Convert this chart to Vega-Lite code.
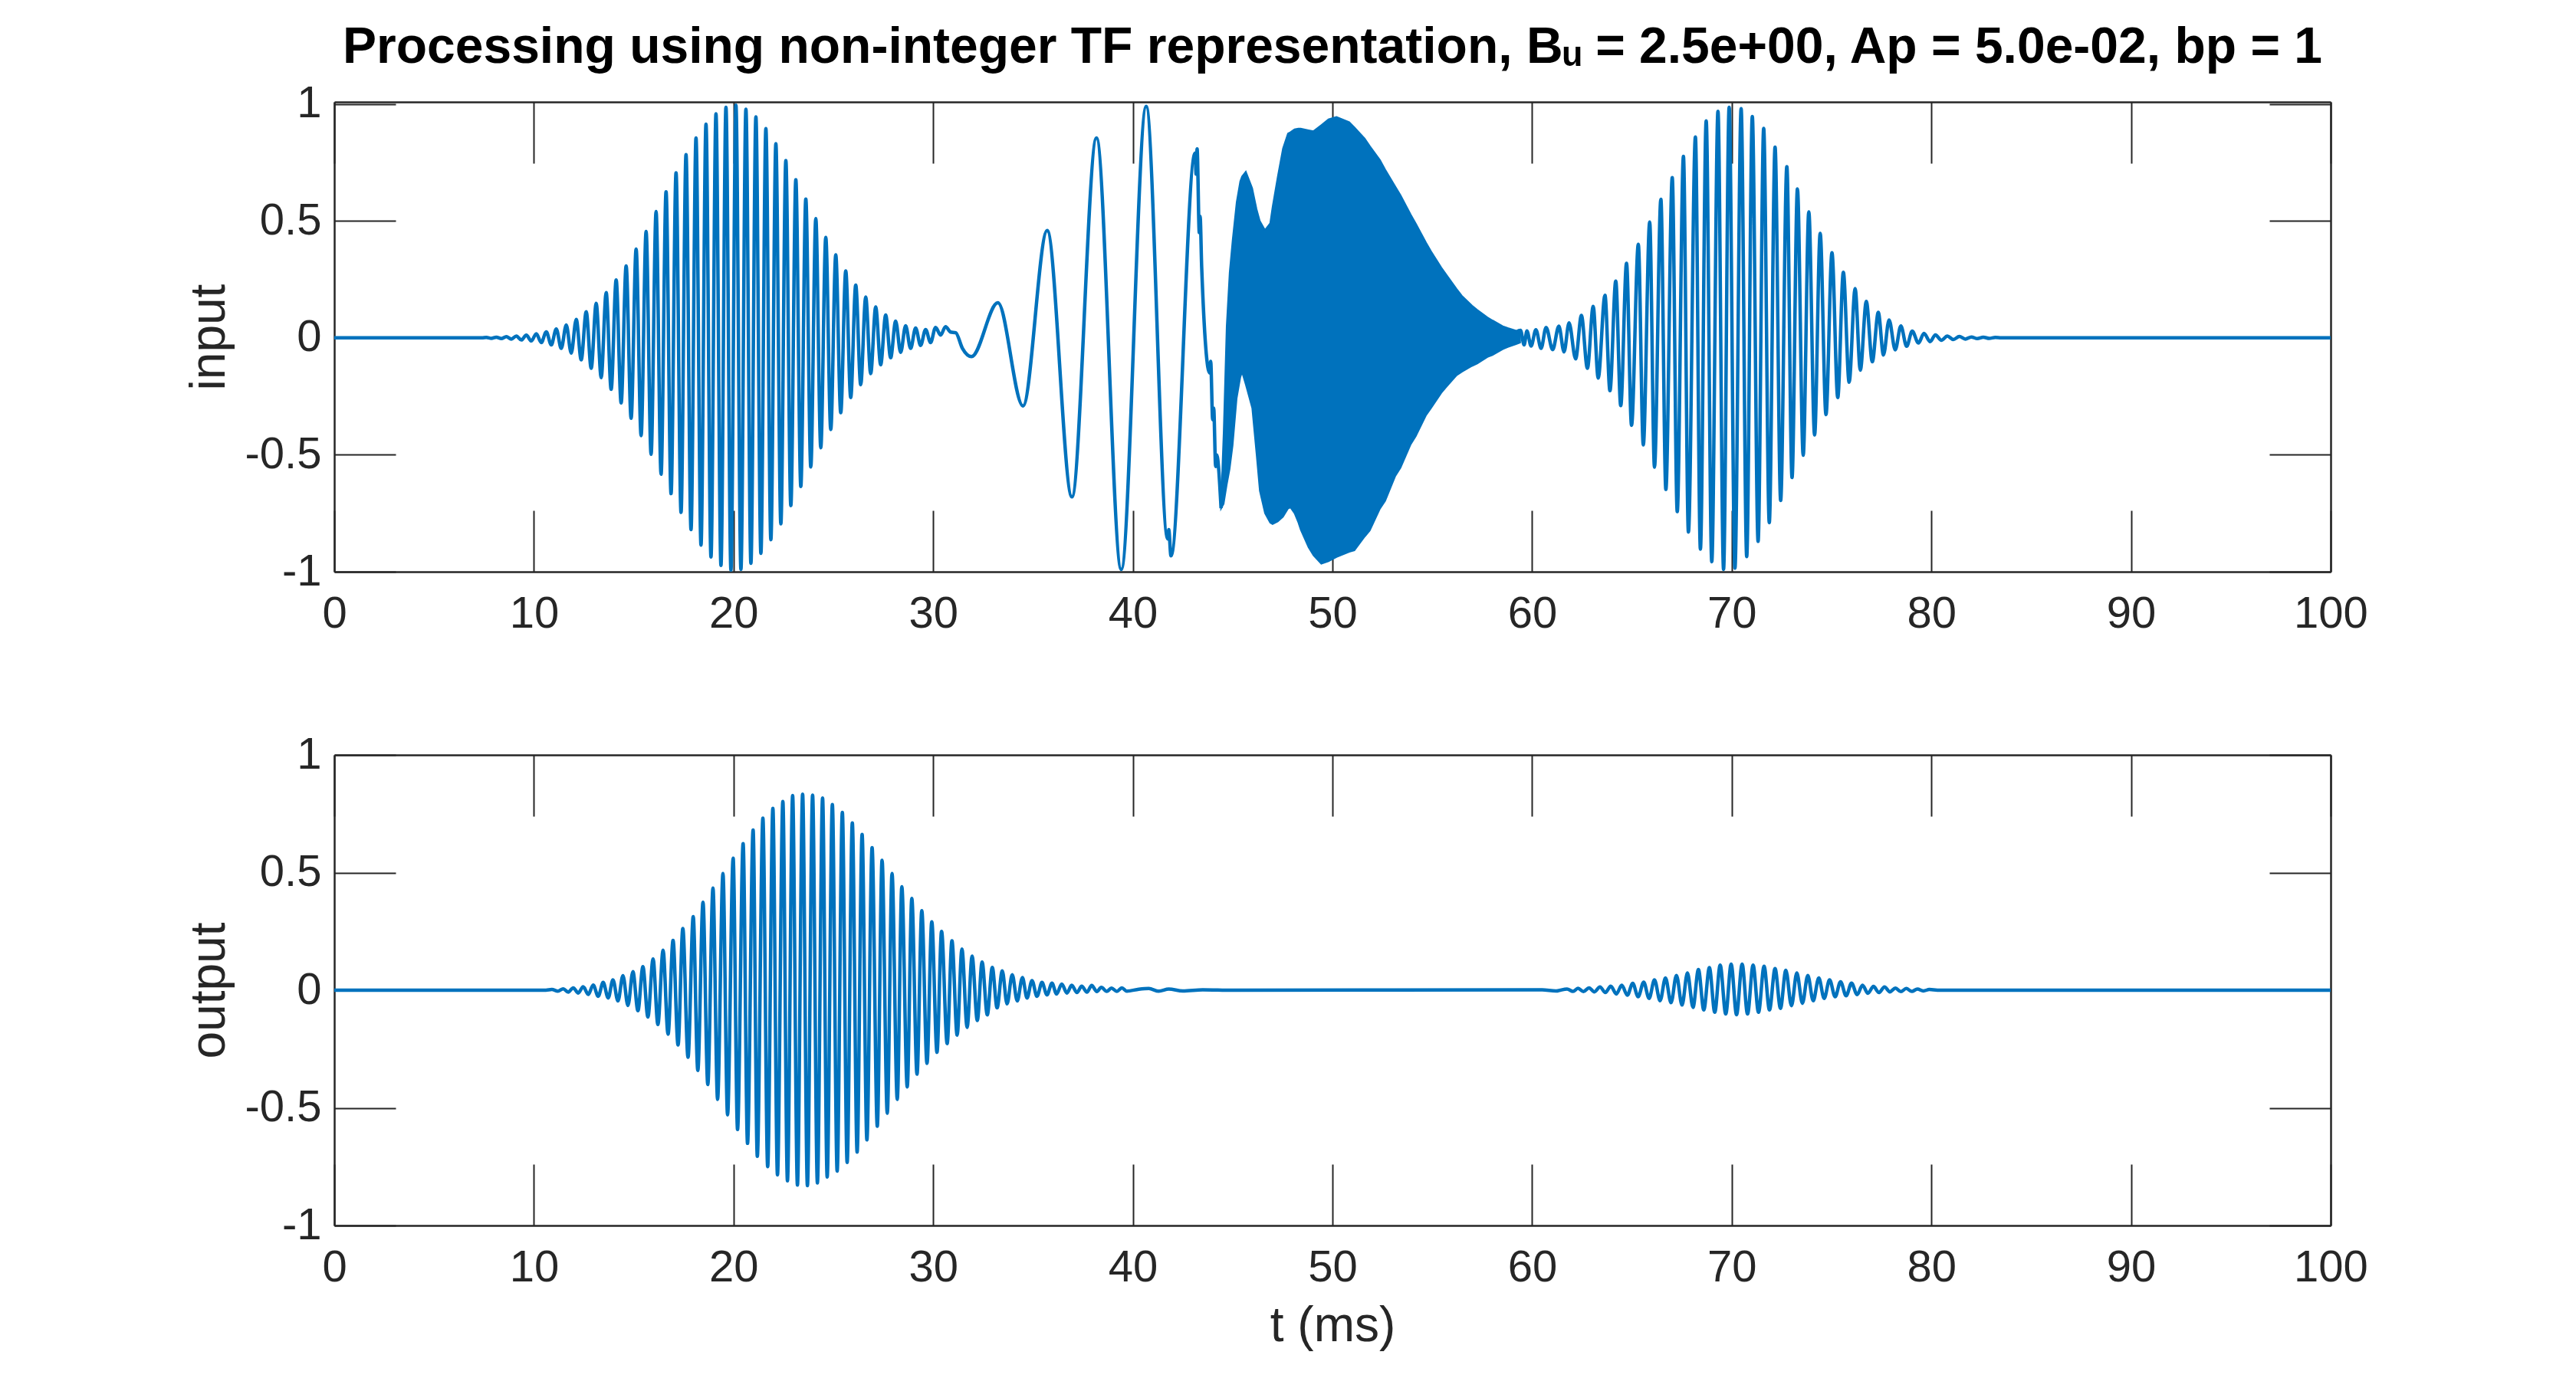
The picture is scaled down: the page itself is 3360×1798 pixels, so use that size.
{
  "$schema": "https://vega.github.io/schema/vega-lite/v6.json",
  "background": "white",
  "padding": {"left": 241, "top": 28, "right": 10, "bottom": 10},
  "config": {
    "font": "Liberation Sans",
    "view": {"stroke": null},
    "axis": {
      "grid": false,
      "domainColor": "#262626", "domainWidth": 2.5,
      "tickColor": "#262626", "tickWidth": 2, "tickSize": -80,
      "labelColor": "#262626", "labelFontSize": 58, "labelFont": "Liberation Sans",
      "labelFlush": false, "labelOverlap": false,
      "titleFont": "Liberation Sans", "titleFontSize": 64, "titleFontWeight": "normal", "titleColor": "#262626"
    },
    "axisX": {"labelPadding": 106, "titlePadding": 15},
    "axisY": {"labelPadding": 97, "titlePadding": 14}
  },
  "datasets": {
    "frame": [{"t": 0, "v": 0}],
    "input": [
      {"s":"a","t":0,"v":0},{"s":"a","t":7.4,"v":0},
      {"s":"a","t":7.62,"v":0.002},{"s":"a","t":7.87,"v":-0.002},{"s":"a","t":8.12,"v":0.003},{"s":"a","t":8.37,"v":-0.003},
      {"s":"a","t":8.62,"v":0.005},{"s":"a","t":8.87,"v":-0.005},{"s":"a","t":9.12,"v":0.008},{"s":"a","t":9.37,"v":-0.009},
      {"s":"a","t":9.62,"v":0.012},{"s":"a","t":9.87,"v":-0.013},{"s":"a","t":10.12,"v":0.018},{"s":"a","t":10.37,"v":-0.02},
      {"s":"a","t":10.62,"v":0.026},{"s":"a","t":10.87,"v":-0.03},{"s":"a","t":11.12,"v":0.038},{"s":"a","t":11.37,"v":-0.045},
      {"s":"a","t":11.62,"v":0.055},{"s":"a","t":11.87,"v":-0.065},{"s":"a","t":12.12,"v":0.079},{"s":"a","t":12.37,"v":-0.094},
      {"s":"a","t":12.62,"v":0.112},{"s":"a","t":12.87,"v":-0.13},{"s":"a","t":13.12,"v":0.148},{"s":"a","t":13.37,"v":-0.17},
      {"s":"a","t":13.62,"v":0.194},{"s":"a","t":13.87,"v":-0.22},{"s":"a","t":14.12,"v":0.248},{"s":"a","t":14.37,"v":-0.278},
      {"s":"a","t":14.62,"v":0.308},{"s":"a","t":14.87,"v":-0.344},{"s":"a","t":15.12,"v":0.38},{"s":"a","t":15.37,"v":-0.418},
      {"s":"a","t":15.62,"v":0.455},{"s":"a","t":15.87,"v":-0.498},{"s":"a","t":16.12,"v":0.54},{"s":"a","t":16.37,"v":-0.583},
      {"s":"a","t":16.62,"v":0.625},{"s":"a","t":16.87,"v":-0.666},{"s":"a","t":17.12,"v":0.706},{"s":"a","t":17.37,"v":-0.746},
      {"s":"a","t":17.62,"v":0.784},{"s":"a","t":17.87,"v":-0.82},{"s":"a","t":18.12,"v":0.855},{"s":"a","t":18.37,"v":-0.886},
      {"s":"a","t":18.62,"v":0.914},{"s":"a","t":18.87,"v":-0.937},{"s":"a","t":19.12,"v":0.958},{"s":"a","t":19.37,"v":-0.973},
      {"s":"a","t":19.62,"v":0.986},{"s":"a","t":19.87,"v":-0.993},{"s":"a","t":20.12,"v":0.995},{"s":"a","t":20.37,"v":-0.99},
      {"s":"a","t":20.62,"v":0.978},{"s":"a","t":20.87,"v":-0.964},{"s":"a","t":21.12,"v":0.945},{"s":"a","t":21.37,"v":-0.921},
      {"s":"a","t":21.62,"v":0.895},{"s":"a","t":21.87,"v":-0.863},{"s":"a","t":22.12,"v":0.83},{"s":"a","t":22.37,"v":-0.795},
      {"s":"a","t":22.62,"v":0.758},{"s":"a","t":22.87,"v":-0.717},{"s":"a","t":23.12,"v":0.676},{"s":"a","t":23.37,"v":-0.635},
      {"s":"a","t":23.62,"v":0.594},{"s":"a","t":23.87,"v":-0.552},{"s":"a","t":24.12,"v":0.51},{"s":"a","t":24.37,"v":-0.47},
      {"s":"a","t":24.62,"v":0.43},{"s":"a","t":24.87,"v":-0.392},{"s":"a","t":25.12,"v":0.355},{"s":"a","t":25.37,"v":-0.32},
      {"s":"a","t":25.62,"v":0.286},{"s":"a","t":25.87,"v":-0.255},{"s":"a","t":26.12,"v":0.226},{"s":"a","t":26.37,"v":-0.2},
      {"s":"a","t":26.62,"v":0.175},{"s":"a","t":26.87,"v":-0.153},{"s":"a","t":27.12,"v":0.132},{"s":"a","t":27.37,"v":-0.115},
      {"s":"a","t":27.62,"v":0.098},{"s":"a","t":27.87,"v":-0.085},{"s":"a","t":28.12,"v":0.072},{"s":"a","t":28.37,"v":-0.062},
      {"s":"a","t":28.62,"v":0.052},{"s":"a","t":28.87,"v":-0.045},{"s":"a","t":29.12,"v":0.042},{"s":"a","t":29.37,"v":-0.032},
      {"s":"a","t":29.62,"v":0.036},{"s":"a","t":29.87,"v":-0.02},{"s":"a","t":30.12,"v":0.045},{"s":"a","t":30.37,"v":0.012},
      {"s":"a","t":30.62,"v":0.048},{"s":"a","t":30.87,"v":0.025},{"s":"a","t":31.13,"v":0.022},{"s":"a","t":31.46,"v":-0.044},
      {"s":"a","t":31.92,"v":-0.08},{"s":"a","t":33.24,"v":0.15},{"s":"a","t":34.5,"v":-0.291},{"s":"a","t":35.71,"v":0.459},
      {"s":"a","t":36.95,"v":-0.68},{"s":"a","t":38.18,"v":0.855},{"s":"a","t":39.42,"v":-0.99},{"s":"a","t":40.67,"v":0.99},
      {"s":"a","t":41.75,"v":-0.86},{"s":"a","t":41.8,"v":-0.82},{"s":"a","t":41.91,"v":-0.932},
      {"s":"a","t":43.12,"v":0.79},{"s":"a","t":43.17,"v":0.7},{"s":"a","t":43.22,"v":0.808},{"s":"a","t":43.33,"v":0.45},
      {"s":"a","t":43.37,"v":0.52},{"s":"a","t":43.45,"v":0.3},{"s":"a","t":43.85,"v":-0.15},{"s":"a","t":43.9,"v":-0.1},
      {"s":"a","t":44.0,"v":-0.35},{"s":"a","t":44.05,"v":-0.3},{"s":"a","t":44.15,"v":-0.55},{"s":"a","t":44.2,"v":-0.5},
      {"s":"a","t":44.42,"v":-0.728},
      {"s":"b","t":59.2,"v":0.025},{"s":"b","t":59.42,"v":0.032},{"s":"b","t":59.6,"v":-0.03},{"s":"b","t":59.74,"v":0.03},
      {"s":"b","t":59.95,"v":-0.035},{"s":"b","t":60.19,"v":0.035},{"s":"b","t":60.45,"v":-0.045},{"s":"b","t":60.7,"v":0.045},
      {"s":"b","t":61.03,"v":-0.05},{"s":"b","t":61.34,"v":0.05},{"s":"b","t":61.6,"v":-0.06},{"s":"b","t":61.85,"v":0.064},
      {"s":"b","t":62.18,"v":-0.09},{"s":"b","t":62.47,"v":0.096},{"s":"b","t":62.77,"v":-0.13},{"s":"b","t":63.06,"v":0.135},
      {"s":"b","t":63.31,"v":-0.172},{"s":"b","t":63.65,"v":0.182},{"s":"b","t":63.9,"v":-0.226},{"s":"b","t":64.19,"v":0.243},
      {"s":"b","t":64.44,"v":-0.29},{"s":"b","t":64.73,"v":0.319},{"s":"b","t":64.98,"v":-0.374},{"s":"b","t":65.32,"v":0.4},
      {"s":"b","t":65.57,"v":-0.458},{"s":"b","t":65.89,"v":0.495},{"s":"b","t":66.13,"v":-0.553},{"s":"b","t":66.45,"v":0.593},
      {"s":"b","t":66.7,"v":-0.648},{"s":"b","t":67.02,"v":0.685},{"s":"b","t":67.27,"v":-0.743},{"s":"b","t":67.58,"v":0.776},
      {"s":"b","t":67.83,"v":-0.83},{"s":"b","t":68.18,"v":0.859},{"s":"b","t":68.43,"v":-0.903},{"s":"b","t":68.72,"v":0.928},
      {"s":"b","t":69.0,"v":-0.957},{"s":"b","t":69.31,"v":0.969},{"s":"b","t":69.59,"v":-0.99},{"s":"b","t":69.87,"v":0.986},
      {"s":"b","t":70.16,"v":-0.985},{"s":"b","t":70.47,"v":0.98},{"s":"b","t":70.75,"v":-0.935},{"s":"b","t":71.03,"v":0.947},
      {"s":"b","t":71.32,"v":-0.87},{"s":"b","t":71.6,"v":0.896},{"s":"b","t":71.88,"v":-0.79},{"s":"b","t":72.17,"v":0.816},
      {"s":"b","t":72.45,"v":-0.695},{"s":"b","t":72.76,"v":0.732},{"s":"b","t":73.02,"v":-0.597},{"s":"b","t":73.29,"v":0.637},
      {"s":"b","t":73.58,"v":-0.502},{"s":"b","t":73.86,"v":0.539},{"s":"b","t":74.15,"v":-0.415},{"s":"b","t":74.43,"v":0.447},
      {"s":"b","t":74.72,"v":-0.328},{"s":"b","t":75.02,"v":0.364},{"s":"b","t":75.31,"v":-0.255},{"s":"b","t":75.59,"v":0.281},
      {"s":"b","t":75.88,"v":-0.19},{"s":"b","t":76.18,"v":0.211},{"s":"b","t":76.44,"v":-0.138},{"s":"b","t":76.74,"v":0.156},
      {"s":"b","t":77.04,"v":-0.102},{"s":"b","t":77.34,"v":0.109},{"s":"b","t":77.6,"v":-0.073},{"s":"b","t":77.88,"v":0.077},
      {"s":"b","t":78.19,"v":-0.051},{"s":"b","t":78.47,"v":0.051},{"s":"b","t":78.76,"v":-0.036},{"s":"b","t":79.04,"v":0.029},
      {"s":"b","t":79.35,"v":-0.022},{"s":"b","t":79.63,"v":0.019},{"s":"b","t":79.94,"v":-0.016},{"s":"b","t":80.2,"v":0.013},
      {"s":"b","t":80.5,"v":-0.01},{"s":"b","t":80.8,"v":0.008},{"s":"b","t":81.1,"v":-0.007},{"s":"b","t":81.4,"v":0.006},
      {"s":"b","t":81.7,"v":-0.005},{"s":"b","t":82.0,"v":0.004},{"s":"b","t":82.3,"v":-0.003},{"s":"b","t":82.6,"v":0.003},
      {"s":"b","t":82.9,"v":-0.002},{"s":"b","t":83.2,"v":0.002},{"s":"b","t":83.5,"v":0},{"s":"b","t":100,"v":0}
    ],
    "blob": [
      {"t":44.42,"hi":-0.7,"lo":-0.73},{"t":44.55,"hi":-0.4,"lo":-0.71},{"t":44.7,"hi":0.05,"lo":-0.63},
      {"t":44.85,"hi":0.28,"lo":-0.56},{"t":45.0,"hi":0.42,"lo":-0.46},{"t":45.2,"hi":0.58,"lo":-0.26},
      {"t":45.38,"hi":0.67,"lo":-0.17},{"t":45.47,"hi":0.69,"lo":-0.145},{"t":45.66,"hi":0.711,"lo":-0.2},
      {"t":45.98,"hi":0.64,"lo":-0.3},{"t":46.2,"hi":0.55,"lo":-0.5},{"t":46.36,"hi":0.5,"lo":-0.654},
      {"t":46.62,"hi":0.461,"lo":-0.75},{"t":46.88,"hi":0.49,"lo":-0.79},{"t":47.0,"hi":0.56,"lo":-0.796},
      {"t":47.26,"hi":0.69,"lo":-0.785},{"t":47.52,"hi":0.81,"lo":-0.765},{"t":47.77,"hi":0.874,"lo":-0.73},
      {"t":47.9,"hi":0.88,"lo":-0.725},{"t":48.1,"hi":0.892,"lo":-0.75},{"t":48.29,"hi":0.895,"lo":-0.789},
      {"t":48.41,"hi":0.895,"lo":-0.82},{"t":48.8,"hi":0.888,"lo":-0.895},{"t":49.05,"hi":0.884,"lo":-0.93},
      {"t":49.44,"hi":0.91,"lo":-0.966},{"t":49.8,"hi":0.935,"lo":-0.955},{"t":50.2,"hi":0.945,"lo":-0.937},
      {"t":50.84,"hi":0.923,"lo":-0.915},{"t":51.1,"hi":0.9,"lo":-0.909},{"t":51.61,"hi":0.853,"lo":-0.85},
      {"t":51.87,"hi":0.82,"lo":-0.824},{"t":52.38,"hi":0.761,"lo":-0.73},{"t":52.64,"hi":0.72,"lo":-0.697},
      {"t":53.15,"hi":0.647,"lo":-0.59},{"t":53.41,"hi":0.61,"lo":-0.555},{"t":53.92,"hi":0.527,"lo":-0.455},
      {"t":54.17,"hi":0.49,"lo":-0.421},{"t":54.69,"hi":0.407,"lo":-0.33},{"t":54.94,"hi":0.37,"lo":-0.3},
      {"t":55.45,"hi":0.301,"lo":-0.235},{"t":55.71,"hi":0.27,"lo":-0.209},{"t":56.22,"hi":0.209,"lo":-0.16},
      {"t":56.48,"hi":0.18,"lo":-0.145},{"t":56.99,"hi":0.138,"lo":-0.12},{"t":57.25,"hi":0.12,"lo":-0.11},
      {"t":57.76,"hi":0.088,"lo":-0.082},{"t":58.01,"hi":0.075,"lo":-0.074},{"t":58.53,"hi":0.05,"lo":-0.048},
      {"t":58.78,"hi":0.042,"lo":-0.039},{"t":59.17,"hi":0.032,"lo":-0.028},{"t":59.4,"hi":0.022,"lo":-0.02}
    ],
    "output": [
      {"t":0,"v":0},{"t":10.6,"v":0},{"t":10.9,"v":0.003},{"t":11.2,"v":-0.004},{"t":11.47,"v":0.006},{"t":11.72,"v":-0.008},
      {"t":11.97,"v":0.01},{"t":12.22,"v":-0.012},{"t":12.47,"v":0.015},{"t":12.72,"v":-0.018},{"t":12.97,"v":0.022},
      {"t":13.22,"v":-0.026},{"t":13.47,"v":0.033},{"t":13.72,"v":-0.033},{"t":13.96,"v":0.044},{"t":14.21,"v":-0.046},
      {"t":14.46,"v":0.062},{"t":14.71,"v":-0.065},{"t":14.96,"v":0.079},{"t":15.21,"v":-0.087},{"t":15.46,"v":0.1},
      {"t":15.71,"v":-0.114},{"t":15.97,"v":0.133},{"t":16.21,"v":-0.146},{"t":16.47,"v":0.17},{"t":16.72,"v":-0.187},
      {"t":16.97,"v":0.212},{"t":17.22,"v":-0.233},{"t":17.46,"v":0.262},{"t":17.72,"v":-0.285},{"t":17.98,"v":0.313},
      {"t":18.21,"v":-0.341},{"t":18.47,"v":0.374},{"t":18.71,"v":-0.401},{"t":18.97,"v":0.434},{"t":19.2,"v":-0.464},
      {"t":19.47,"v":0.496},{"t":19.7,"v":-0.53},{"t":19.98,"v":0.561},{"t":20.2,"v":-0.592},{"t":20.48,"v":0.623},
      {"t":20.7,"v":-0.651},{"t":20.98,"v":0.681},{"t":21.19,"v":-0.706},{"t":21.47,"v":0.731},{"t":21.71,"v":-0.75},
      {"t":21.97,"v":0.773},{"t":22.2,"v":-0.785},{"t":22.47,"v":0.802},{"t":22.7,"v":-0.81},{"t":22.96,"v":0.827},
      {"t":23.2,"v":-0.828},{"t":23.46,"v":0.833},{"t":23.7,"v":-0.831},{"t":23.96,"v":0.829},{"t":24.2,"v":-0.819},
      {"t":24.46,"v":0.817},{"t":24.69,"v":-0.794},{"t":24.95,"v":0.789},{"t":25.19,"v":-0.769},{"t":25.45,"v":0.756},
      {"t":25.69,"v":-0.732},{"t":25.95,"v":0.711},{"t":26.19,"v":-0.688},{"t":26.44,"v":0.662},{"t":26.68,"v":-0.636},
      {"t":26.94,"v":0.606},{"t":27.2,"v":-0.578},{"t":27.44,"v":0.552},{"t":27.7,"v":-0.523},{"t":27.94,"v":0.496},
      {"t":28.2,"v":-0.464},{"t":28.43,"v":0.44},{"t":28.7,"v":-0.411},{"t":28.93,"v":0.39},{"t":29.19,"v":-0.357},
      {"t":29.43,"v":0.338},{"t":29.69,"v":-0.311},{"t":29.93,"v":0.291},{"t":30.19,"v":-0.264},{"t":30.42,"v":0.25},
      {"t":30.7,"v":-0.227},{"t":30.94,"v":0.21},{"t":31.2,"v":-0.191},{"t":31.44,"v":0.175},{"t":31.7,"v":-0.158},
      {"t":31.95,"v":0.145},{"t":32.21,"v":-0.129},{"t":32.45,"v":0.12},{"t":32.71,"v":-0.105},{"t":32.96,"v":0.097},
      {"t":33.2,"v":-0.075},{"t":33.46,"v":0.082},{"t":33.7,"v":-0.058},{"t":33.96,"v":0.066},{"t":34.21,"v":-0.046},
      {"t":34.47,"v":0.054},{"t":34.7,"v":-0.033},{"t":34.95,"v":0.041},{"t":35.2,"v":-0.026},{"t":35.45,"v":0.033},
      {"t":35.7,"v":-0.02},{"t":35.95,"v":0.03},{"t":36.18,"v":-0.016},{"t":36.44,"v":0.026},{"t":36.7,"v":-0.012},
      {"t":36.94,"v":0.021},{"t":37.2,"v":-0.01},{"t":37.44,"v":0.017},{"t":37.7,"v":-0.008},{"t":37.94,"v":0.02},
      {"t":38.2,"v":-0.006},{"t":38.42,"v":0.012},{"t":38.7,"v":-0.005},{"t":38.93,"v":0.009},{"t":39.2,"v":-0.005},
      {"t":39.45,"v":0.01},{"t":39.7,"v":-0.004},{"t":40.3,"v":0.004},{"t":40.8,"v":0.007},{"t":41.3,"v":-0.004},
      {"t":41.8,"v":0.005},{"t":42.5,"v":-0.003},{"t":43.5,"v":0.002},{"t":45,"v":0},{"t":60.5,"v":0.002},
      {"t":61.2,"v":-0.003},{"t":61.75,"v":0.005},{"t":62.05,"v":-0.005},{"t":62.3,"v":0.008},{"t":62.57,"v":-0.006},
      {"t":62.85,"v":0.01},{"t":63.12,"v":-0.007},{"t":63.4,"v":0.014},{"t":63.67,"v":-0.01},{"t":63.94,"v":0.017},
      {"t":64.22,"v":-0.016},{"t":64.49,"v":0.021},{"t":64.77,"v":-0.021},{"t":65.04,"v":0.029},{"t":65.31,"v":-0.028},
      {"t":65.59,"v":0.034},{"t":65.86,"v":-0.035},{"t":66.13,"v":0.044},{"t":66.41,"v":-0.045},{"t":66.68,"v":0.052},
      {"t":66.96,"v":-0.053},{"t":67.23,"v":0.063},{"t":67.51,"v":-0.063},{"t":67.78,"v":0.073},{"t":68.06,"v":-0.073},
      {"t":68.33,"v":0.088},{"t":68.6,"v":-0.084},{"t":68.88,"v":0.096},{"t":69.15,"v":-0.094},{"t":69.42,"v":0.107},
      {"t":69.7,"v":-0.101},{"t":69.97,"v":0.111},{"t":70.24,"v":-0.104},{"t":70.52,"v":0.111},{"t":70.79,"v":-0.101},
      {"t":71.07,"v":0.107},{"t":71.34,"v":-0.094},{"t":71.62,"v":0.102},{"t":71.89,"v":-0.084},{"t":72.17,"v":0.092},
      {"t":72.44,"v":-0.077},{"t":72.71,"v":0.085},{"t":72.99,"v":-0.066},{"t":73.26,"v":0.073},{"t":73.54,"v":-0.056},
      {"t":73.81,"v":0.063},{"t":74.08,"v":-0.045},{"t":74.36,"v":0.052},{"t":74.63,"v":-0.035},{"t":74.9,"v":0.044},
      {"t":75.18,"v":-0.028},{"t":75.45,"v":0.036},{"t":75.73,"v":-0.024},{"t":76.0,"v":0.03},{"t":76.28,"v":-0.019},
      {"t":76.55,"v":0.021},{"t":76.82,"v":-0.013},{"t":77.1,"v":0.016},{"t":77.37,"v":-0.01},{"t":77.65,"v":0.014},
      {"t":77.92,"v":-0.007},{"t":78.2,"v":0.009},{"t":78.47,"v":-0.006},{"t":78.74,"v":0.007},{"t":79.02,"v":-0.005},
      {"t":79.3,"v":0.005},{"t":79.6,"v":-0.003},{"t":79.9,"v":0.003},{"t":80.3,"v":0},{"t":100,"v":0}
    ]
  },
  "spacing": 239,
  "bounds": "flush",
  "vconcat": [
    {
      "width": 2604,
      "height": 613,
      "title": {
        "text": "Processing using non-integer TF representation, B\u1d64 = 2.5e+00, Ap = 5.0e-02, bp = 1",
        "anchor": "middle", "frame": "group",
        "font": "Liberation Sans", "fontSize": 66, "fontWeight": "bold", "color": "black",
        "baseline": "alphabetic", "offset": -41
      },
      "layer": [
        {
          "data": {"name": "blob"},
          "mark": {"type": "area", "color": "#0072BD", "opacity": 1, "stroke": "#0072BD", "strokeWidth": 2},
          "encoding": {
            "x": {"field": "t", "type": "quantitative", "axis": null, "scale": {"domain": [0, 100], "nice": false, "zero": false}},
            "y": {"field": "hi", "type": "quantitative", "axis": null, "scale": {"domain": [-1, 1.009], "nice": false, "zero": false}},
            "y2": {"field": "lo"}
          }
        },
        {
          "data": {"name": "input"},
          "mark": {"type": "line", "color": "#0072BD", "strokeWidth": 4.5, "interpolate": "monotone"},
          "encoding": {
            "x": {"field": "t", "type": "quantitative", "scale": {"domain": [0, 100], "nice": false, "zero": false},
                  "axis": {"title": null, "values": [0,10,20,30,40,50,60,70,80,90,100]}},
            "y": {"field": "v", "type": "quantitative", "scale": {"domain": [-1, 1.009], "nice": false, "zero": false},
                  "axis": {"title": "input", "values": [-1,-0.5,0,0.5,1],
                           "labelExpr": "datum.value < 0 ? '-' + format(-datum.value, '~g') : format(datum.value, '~g')"}},
            "detail": {"field": "s"}
          }
        },
        {
          "data": {"name": "frame"},
          "mark": {"type": "point", "opacity": 0},
          "encoding": {
            "x": {"field": "t", "type": "quantitative", "scale": {"domain": [0, 100], "nice": false, "zero": false},
                  "axis": {"orient": "top", "labels": false, "title": null, "minExtent": 0, "maxExtent": 0,
                           "values": [0,10,20,30,40,50,60,70,80,90,100]}},
            "y": {"field": "v", "type": "quantitative", "scale": {"domain": [-1, 1.009], "nice": false, "zero": false},
                  "axis": {"orient": "right", "labels": false, "title": null, "minExtent": 0, "maxExtent": 0,
                           "values": [-1,-0.5,0,0.5,1]}}
          }
        }
      ],
      "resolve": {"axis": {"x": "independent", "y": "independent"}}
    },
    {
      "width": 2604,
      "height": 614,
      "layer": [
        {
          "data": {"name": "output"},
          "mark": {"type": "line", "color": "#0072BD", "strokeWidth": 4.5, "interpolate": "monotone"},
          "encoding": {
            "x": {"field": "t", "type": "quantitative", "scale": {"domain": [0, 100], "nice": false, "zero": false},
                  "axis": {"title": "t (ms)", "values": [0,10,20,30,40,50,60,70,80,90,100]}},
            "y": {"field": "v", "type": "quantitative", "scale": {"domain": [-1, 1], "nice": false, "zero": false},
                  "axis": {"title": "output", "values": [-1,-0.5,0,0.5,1],
                           "labelExpr": "datum.value < 0 ? '-' + format(-datum.value, '~g') : format(datum.value, '~g')"}}
          }
        },
        {
          "data": {"name": "frame"},
          "mark": {"type": "point", "opacity": 0},
          "encoding": {
            "x": {"field": "t", "type": "quantitative", "scale": {"domain": [0, 100], "nice": false, "zero": false},
                  "axis": {"orient": "top", "labels": false, "title": null, "minExtent": 0, "maxExtent": 0,
                           "values": [0,10,20,30,40,50,60,70,80,90,100]}},
            "y": {"field": "v", "type": "quantitative", "scale": {"domain": [-1, 1], "nice": false, "zero": false},
                  "axis": {"orient": "right", "labels": false, "title": null, "minExtent": 0, "maxExtent": 0,
                           "values": [-1,-0.5,0,0.5,1]}}
          }
        }
      ],
      "resolve": {"axis": {"x": "independent", "y": "independent"}}
    }
  ]
}
